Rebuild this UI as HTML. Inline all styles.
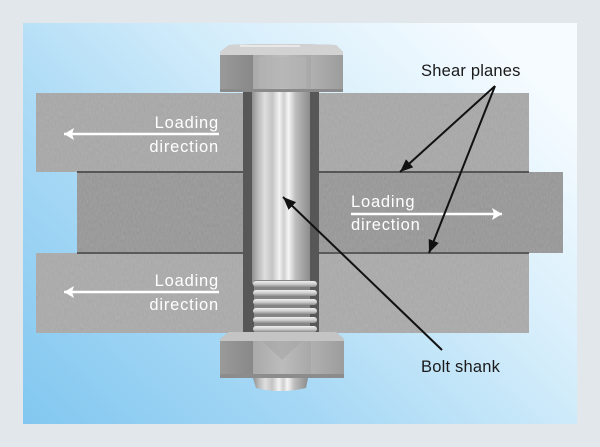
<!DOCTYPE html>
<html><head><meta charset="utf-8"><style>
html,body{margin:0;padding:0;width:600px;height:447px;overflow:hidden;background:#e2e7eb;}
svg{display:block;}
text{font-family:"Liberation Sans",sans-serif;}
</style></head><body>
<svg width="600" height="447" viewBox="0 0 600 447" xmlns="http://www.w3.org/2000/svg">
<defs>
<linearGradient id="bg" x1="0" y1="1" x2="1" y2="0.25">
<stop offset="0" stop-color="#82c7f0"/>
<stop offset="0.35" stop-color="#a6d8f5"/>
<stop offset="0.7" stop-color="#d6eefb"/>
<stop offset="1" stop-color="#f5fbff"/>
</linearGradient>
<linearGradient id="shank" x1="0" y1="0" x2="1" y2="0">
<stop offset="0" stop-color="#8f8f8f"/>
<stop offset="0.1" stop-color="#b8b8b8"/>
<stop offset="0.22" stop-color="#dedede"/>
<stop offset="0.35" stop-color="#c4c4c4"/>
<stop offset="0.47" stop-color="#f3f3f3"/>
<stop offset="0.55" stop-color="#cfcfcf"/>
<stop offset="0.63" stop-color="#f6f6f6"/>
<stop offset="0.75" stop-color="#bdbdbd"/>
<stop offset="1" stop-color="#8c8c8c"/>
</linearGradient>
<linearGradient id="thread" x1="0" y1="0" x2="0" y2="1">
<stop offset="0" stop-color="#eeeeee"/>
<stop offset="0.5" stop-color="#cfcfcf"/>
<stop offset="1" stop-color="#8e8e8e"/>
</linearGradient>
<linearGradient id="faceL" x1="0" y1="0" x2="1" y2="0">
<stop offset="0" stop-color="#9a9a9a"/>
<stop offset="1" stop-color="#888888"/>
</linearGradient>
<linearGradient id="faceM" x1="0" y1="0" x2="1" y2="0">
<stop offset="0" stop-color="#a9a9a9"/>
<stop offset="0.5" stop-color="#bcbcbc"/>
<stop offset="1" stop-color="#a8a8a8"/>
</linearGradient>
<linearGradient id="faceR" x1="0" y1="0" x2="1" y2="0">
<stop offset="0" stop-color="#b0b0b0"/>
<stop offset="1" stop-color="#9c9c9c"/>
</linearGradient>
<filter id="noise" x="0" y="0" width="100%" height="100%">
<feTurbulence type="fractalNoise" baseFrequency="0.9 0.25" numOctaves="2" seed="3" result="t"/>
<feColorMatrix in="t" type="matrix" values="0 0 0 0 1  0 0 0 0 1  0 0 0 0 1  0 0 0 0.12 0" result="n"/>
<feComposite in="n" in2="SourceGraphic" operator="in" result="nn"/>
<feMerge><feMergeNode in="SourceGraphic"/><feMergeNode in="nn"/></feMerge>
</filter>
<marker id="ab" viewBox="0 0 12 10" refX="12" refY="5" markerWidth="13" markerHeight="11" markerUnits="userSpaceOnUse" orient="auto">
<path d="M0,0 L12,5 L0,10 z" fill="#111"/>
</marker>
<marker id="aw" viewBox="0 0 10 12" refX="10" refY="6" markerWidth="10" markerHeight="12" markerUnits="userSpaceOnUse" orient="auto">
<path d="M0,0 L10,6 L0,12 L2,6 z" fill="#fff"/>
</marker>
</defs>

<!-- panel -->
<rect x="23" y="23" width="554" height="401" fill="url(#bg)"/>

<!-- plates -->
<g filter="url(#noise)">
<rect x="36" y="93" width="493" height="79" fill="#a3a3a3"/>
<rect x="77" y="172" width="486" height="81" fill="#929292"/>
<rect x="36" y="253" width="493" height="80" fill="#a5a5a5"/>
</g>
<rect x="77" y="171" width="452" height="2" fill="#565656"/>
<rect x="77" y="252" width="452" height="2" fill="#5a5a5a"/>

<!-- hole -->
<rect x="243" y="92" width="76" height="241" fill="#575757"/>
<!-- shank -->
<rect x="252" y="92" width="58" height="192" fill="url(#shank)"/>
<!-- threads -->
<rect x="254" y="280" width="56" height="53" fill="#858585"/>
<g fill="url(#thread)">
<rect x="253" y="281" width="64" height="6" rx="3"/>
<rect x="253" y="290" width="64" height="6" rx="3"/>
<rect x="253" y="299" width="64" height="6" rx="3"/>
<rect x="253" y="308" width="64" height="6" rx="3"/>
<rect x="253" y="317" width="64" height="6" rx="3"/>
<rect x="253" y="326" width="64" height="6" rx="3"/>
</g>

<!-- bolt head -->
<path d="M229,45 Q282,43 336,45 L343,52 L343,92 L220,92 L220,52 Z" fill="#a0a0a0"/>
<rect x="220" y="54" width="33" height="38" fill="url(#faceL)"/>
<rect x="253" y="54" width="58" height="38" fill="url(#faceM)"/>
<rect x="311" y="54" width="32" height="38" fill="url(#faceR)"/>
<rect x="259" y="57" width="47" height="31" fill="#b4b4b4" opacity="0.6"/>
<path d="M229,45 Q282,43 336,45 L343,52 L343,55 L220,55 L220,52 Z" fill="#d2d2d2"/>
<rect x="240" y="45" width="60" height="2" fill="#e8e8e8"/>
<rect x="220" y="89" width="123" height="3" fill="#8a8a8a"/>

<!-- nut -->
<path d="M229,332 L336,332 L344,339 L344,378 L220,378 L220,339 Z" fill="#a0a0a0"/>
<rect x="220" y="340" width="33" height="36" fill="url(#faceL)"/>
<rect x="253" y="340" width="58" height="36" fill="url(#faceM)"/>
<rect x="311" y="340" width="33" height="36" fill="url(#faceR)"/>
<path d="M262,341 L302,341 L282,360 Z" fill="#a2a2a2" opacity="0.5"/>
<path d="M229,332 L336,332 L344,339 L344,341 L220,341 L220,339 Z" fill="#c4c4c4"/>
<rect x="220" y="374" width="124" height="4" fill="#8c8c8c"/>
<!-- stub -->
<path d="M253,378 L308,378 L306,388 Q280,394 256,388 Z" fill="url(#shank)"/>

<!-- white arrows -->
<line x1="219" y1="134" x2="64" y2="134" stroke="#fff" stroke-width="2.5" marker-end="url(#aw)"/>
<line x1="351" y1="214" x2="502" y2="214" stroke="#fff" stroke-width="2.5" marker-end="url(#aw)"/>
<line x1="219" y1="292" x2="64" y2="292" stroke="#fff" stroke-width="2.5" marker-end="url(#aw)"/>

<g fill="#fff" font-size="16.5" letter-spacing="0.8">
<text x="219" y="128" text-anchor="end">Loading</text>
<text x="219" y="152" text-anchor="end">direction</text>
<text x="351" y="207">Loading</text>
<text x="351" y="230">direction</text>
<text x="219" y="286" text-anchor="end">Loading</text>
<text x="219" y="310" text-anchor="end">direction</text>
</g>

<!-- black leader lines -->
<line x1="495" y1="86" x2="400" y2="172" stroke="#111" stroke-width="2" marker-end="url(#ab)"/>
<line x1="495" y1="86" x2="429" y2="253" stroke="#111" stroke-width="2" marker-end="url(#ab)"/>
<line x1="442" y1="350" x2="283" y2="197" stroke="#111" stroke-width="2" marker-end="url(#ab)"/>

<g fill="#1a1a1a" font-size="16.5" letter-spacing="0.2">
<text x="421" y="76">Shear planes</text>
<text x="421" y="372">Bolt shank</text>
</g>
</svg>
</body></html>
